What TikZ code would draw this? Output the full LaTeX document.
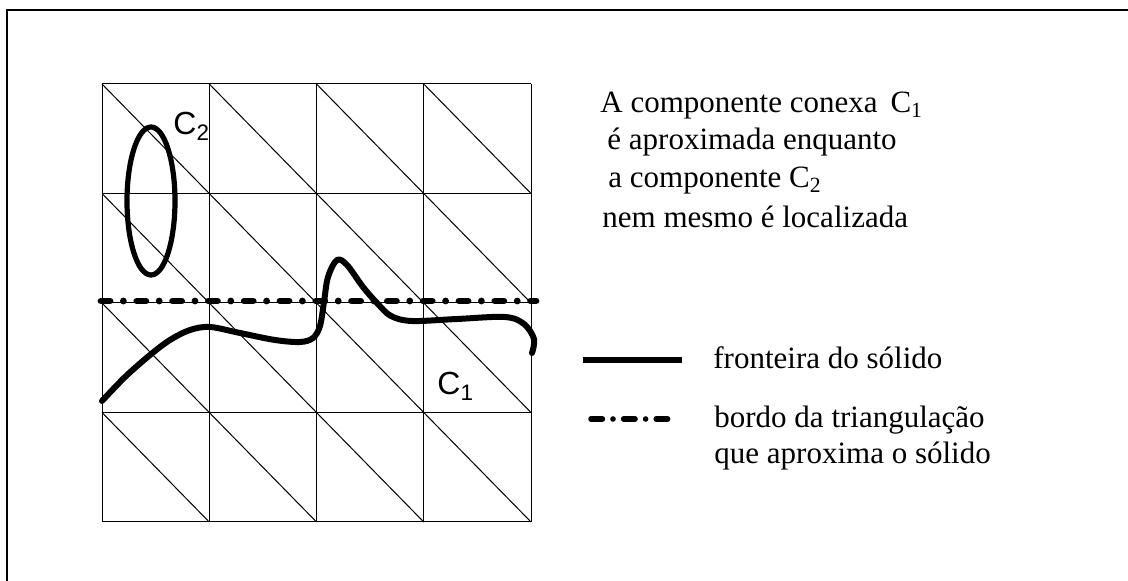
\documentclass[tikz,border=0pt]{standalone}
\usepackage{fontspec}
\setmainfont{Liberation Serif}
\newfontfamily\rotfont{Liberation Sans}
\usetikzlibrary{positioning}

\begin{document}
\begin{tikzpicture}[x=0.5pt, y=-0.5pt,
    grade/.style={line width=0.5pt},
    fronteira/.style={line width=3pt, line cap=round, line join=round},
    bordo/.style={line width=3.4pt, line cap=round,
      dash pattern=on 4.5pt off 6.7pt on 0pt off 6.7pt},
    txt/.style={anchor=base west, inner sep=0pt, font=\fontsize{15.5}{19}\selectfont},
    rot/.style={anchor=base west, inner sep=0pt, font=\rotfont\fontsize{16}{19}\selectfont}]
  \def\xo{102}     % canto superior esquerdo da grade
  \def\yo{84}
  \def\dx{107.25}  % largura da celula
  \def\dy{109.5}   % altura da celula
  \useasboundingbox (0,0) rectangle (1128,581);
  % moldura (so o topo e a esquerda aparecem)
  \draw[line width=1pt] (1128,10) -- (7,10) -- (7,581);
  % grade com as diagonais da triangulacao
  \foreach \i in {0,...,4} {
    \draw[grade] (\xo+\i*\dx,\yo) -- (\xo+\i*\dx,\yo+4*\dy);
    \draw[grade] (\xo,\yo+\i*\dy) -- (\xo+4*\dx,\yo+\i*\dy);
  }
  \foreach \i in {0,...,3}
    \foreach \j in {0,...,3}
      \draw[grade] (\xo+\i*\dx,\yo+\j*\dy) -- (\xo+\i*\dx+\dx,\yo+\j*\dy+\dy);
  % componente C2
  \draw[fronteira, line width=2.6pt] (151,201) ellipse [x radius=24, y radius=74];
  \node[rot] (c2) at (173,135) {C\textsubscript{2}};
  % componente C1
  \draw[fronteira] plot[smooth, tension=0.55] coordinates {
    (102,401) (125,377) (150,355) (170,340) (190,330) (210,327) (240,333)
    (275,340) (300,342) (313,338) (320,326) (324,302) (328,277) (337,260)
    (347,265) (363,287) (377,303) (391,316) (412,321) (457,319) (505,317)
    (524,324) (534,339) (532,353)};
  \node[rot] (c1) at (437,395) {C\textsubscript{1}};
  % bordo da triangulacao
  \coordinate (bd1) at (101,301);
  \coordinate (bd2) at (536,301);
  \draw[bordo] (bd1) -- (bd2);
  % texto
  \node[txt] (t1) at (600,113) {A componente conexa \,C\textsubscript{1}};
  \node[txt] (t2) at (607,150) {é aproximada enquanto};
  \node[txt] (t3) at (608,188) {a componente C\textsubscript{2}};
  \node[txt] (t4) at (602,228) {nem mesmo é localizada};
  % legenda
  \coordinate (lf1) at (583,360);
  \coordinate (lf2) at (682,360);
  \draw[fronteira, line width=3.3pt, line cap=butt] (lf1) -- (lf2);
  \node[txt] (l1) at (713,369) {fronteira do sólido};
  \coordinate (lb1) at (591,419);
  \coordinate (lb2) at (675,419);
  \draw[bordo, line width=2.8pt, dash pattern=on 5.7pt off 5.3pt on 0pt off 5.3pt]
    (lb1) -- (lb2);
  \node[txt] (l2) at (714,428) {bordo da triangulação};
  \node[txt] (l3) at (714,464) {que aproxima o sólido};
\end{tikzpicture}
\end{document}
